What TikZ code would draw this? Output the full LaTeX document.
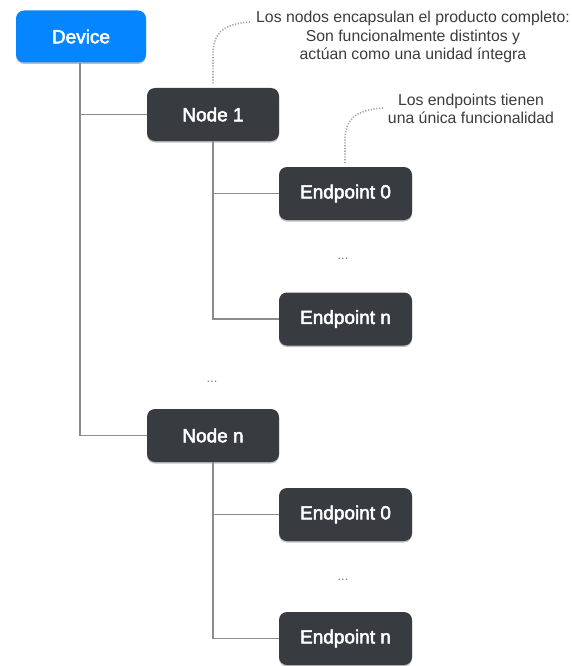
\documentclass[tikz,border=0pt]{standalone}
\usepackage{fontspec}
\setmainfont{Liberation Sans}
\newfontfamily\boxfont{Liberation Sans}[FakeBold=2.6]
\usetikzlibrary{shadows}
\definecolor{devblue}{RGB}{5,134,255}
\definecolor{boxdark}{RGB}{56,59,63}
\definecolor{linegray}{RGB}{140,140,140}
\definecolor{dotgray}{RGB}{165,165,165}
\definecolor{anntext}{RGB}{60,60,60}
\tikzset{
  box/.style={rounded corners=8pt, minimum width=132pt, minimum height=53pt,
    inner sep=0pt, fill=boxdark, text=white, font=\boxfont\fontsize{19}{20}\selectfont,
    drop shadow={shadow xshift=0pt, shadow yshift=-1.5pt, opacity=0.25, fill=black}},
  devbox/.style={box, fill=devblue, minimum width=130pt, minimum height=52pt},
  conn/.style={draw=linegray, line width=1.1pt},
  note/.style={dotgray, line width=1.6pt, dash pattern=on 1.2pt off 1.6pt},
  ann/.style={text=anntext, align=center, inner sep=0pt, font=\fontsize{15.8}{18.5}\selectfont},
  dots/.style={text=gray, inner sep=0pt, font=\fontsize{13}{13}\selectfont}
}
\begin{document}
\begin{tikzpicture}[x=1pt,y=-1pt]
\useasboundingbox (0,0) rectangle (572,666);
\node[devbox] (dev) at (81,36.5) {Device};
\node[box] (n1) at (213,114.5) {Node 1};
\node[box, minimum width=133pt] (e0a) at (345.5,193.5) {Endpoint 0};
\node[box, minimum width=133pt] (ena) at (345.5,319) {Endpoint n};
\node[box] (nn) at (213,435.5) {Node n};
\node[box, minimum width=133pt] (e0b) at (345.5,514.5) {Endpoint 0};
\node[box, minimum width=133pt] (enb) at (345.5,638.5) {Endpoint n};
\node[dots] (d1) at (343,259) {...};
\node[dots] (d2) at (212,382) {...};
\node[dots] (d3) at (343,580) {...};
\node[ann] (a1) at (413,37) {Los nodos encapsulan el producto completo:\\Son funcionalmente distintos y\\actúan como una unidad íntegra};
\node[ann] (a2) at (471,109) {Los endpoints tienen\\una única funcionalidad};
% connectors
\coordinate (dtop) at ([xshift=-1pt]dev.south);
\coordinate (b1) at (dtop |- n1.west);
\draw[conn] (dtop) |- (nn.west);
\draw[conn] (b1) -- (n1.west);
\coordinate (n1s) at (n1.south);
\coordinate (b2) at (n1s |- e0a.west);
\draw[conn] (n1s) |- (ena.west);
\draw[conn] (b2) -- (e0a.west);
\coordinate (nns) at (nn.south);
\coordinate (b3) at (nns |- e0b.west);
\draw[conn] (nns) |- (enb.west);
\draw[conn] (b3) -- (e0b.west);
% dotted callouts
\coordinate (c1s) at (250,22);
\coordinate (c1e) at ([yshift=3pt]n1.north);
\draw[note] (c1s) .. controls (222,24) and (213,34) .. (213,55) -- (c1e);
\coordinate (c2s) at (383,108);
\coordinate (c2e) at ([xshift=-0.5pt,yshift=3pt]e0a.north);
\draw[note] (c2s) .. controls (355,110) and (345,120) .. (345,140) -- (c2e);
\end{tikzpicture}
\end{document}
